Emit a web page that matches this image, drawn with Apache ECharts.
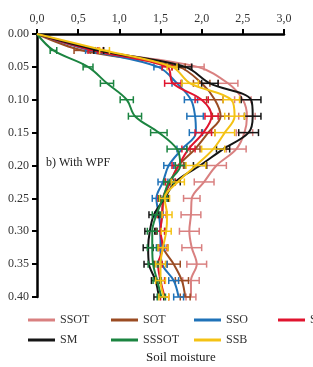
<!DOCTYPE html>
<html>
<head>
<meta charset="utf-8">
<script src="https://cdn.jsdelivr.net/npm/echarts@6/dist/echarts.min.js"></script>
<style>
	html, body { margin: 0; padding: 0; background: #fff; }
	#chart { width: 313px; height: 367px; }
</style>
</head>
<body>
<div id="chart"></div>
<script>
// depth (m) down the profile
var depths = [0, 0.025, 0.05, 0.075, 0.1, 0.125, 0.15, 0.175, 0.2, 0.225, 0.25, 0.275, 0.3, 0.325, 0.35, 0.375, 0.4];

// soil moisture per treatment, one value per depth
var ssot = [0, 0.72, 1.95, 2.32, 2.5, 2.55, 2.52, 2.42, 2.18, 2.03, 1.88, 1.87, 1.85, 1.88, 1.94, 1.87, 1.87];
var sot = [0, 0.55, 1.72, 2.0, 2.16, 2.23, 2.08, 1.92, 1.72, 1.62, 1.54, 1.52, 1.5, 1.53, 1.66, 1.76, 1.8];
var sso = [0, 0.65, 1.47, 1.7, 1.87, 1.92, 1.93, 1.76, 1.6, 1.53, 1.45, 1.48, 1.5, 1.5, 1.52, 1.66, 1.72];
var sss = [0, 0.68, 1.58, 1.65, 2.0, 2.12, 2.02, 1.84, 1.72, 1.62, 1.53, 1.52, 1.5, 1.53, 1.47, 1.5, 1.55];
var sm = [0, 0.75, 1.8, 2.1, 2.6, 2.62, 2.57, 2.26, 1.98, 1.68, 1.55, 1.42, 1.37, 1.35, 1.36, 1.44, 1.48];
var sssot = [0, 0.2, 0.62, 0.85, 1.09, 1.19, 1.48, 1.7, 1.74, 1.6, 1.53, 1.45, 1.4, 1.4, 1.41, 1.46, 1.51];
var ssb = [0, 0.82, 1.64, 1.86, 2.36, 2.4, 2.28, 2.14, 1.93, 1.71, 1.55, 1.58, 1.57, 1.53, 1.5, 1.5, 1.54];

// error bar half widths
var ssotErr = [0, 0.08, 0.08, 0.12, 0.1, 0.1, 0.1, 0.12, 0.12, 0.12, 0.1, 0.12, 0.12, 0.12, 0.12, 0.1, 0.06];
var sotErr = [0, 0.1, 0.08, 0.1, 0.1, 0.1, 0.08, 0.06, 0.06, 0.06, 0.06, 0.06, 0.06, 0.06, 0.08, 0.08, 0.06];
var ssoErr = [0, 0.06, 0.05, 0.06, 0.08, 0.1, 0.08, 0.06, 0.06, 0.06, 0.05, 0.05, 0.05, 0.05, 0.06, 0.06, 0.06];
var sssErr = [0, 0.06, 0.06, 0.1, 0.08, 0.08, 0.1, 0.08, 0.08, 0.06, 0.06, 0.05, 0.05, 0.05, 0.05, 0.05, 0.05];
var smErr = [0, 0.06, 0.08, 0.1, 0.12, 0.1, 0.12, 0.08, 0.08, 0.06, 0.05, 0.06, 0.06, 0.06, 0.06, 0.05, 0.06];
var sssotErr = [0, 0.04, 0.06, 0.08, 0.08, 0.08, 0.1, 0.12, 0.06, 0.06, 0.05, 0.05, 0.06, 0.06, 0.06, 0.05, 0.05];
var ssbErr = [0, 0.06, 0.06, 0.1, 0.1, 0.12, 0.12, 0.14, 0.12, 0.08, 0.06, 0.06, 0.06, 0.06, 0.06, 0.06, 0.06];

var xTicks = ['0,0', '0,5', '1,0', '1,5', '2,0', '2,5', '3,0'];

var list = [
	{ name: 'SSOT', color: '#d98080', vals: ssot, err: ssotErr },
	{ name: 'SOT', color: '#9a4b22', vals: sot, err: sotErr },
	{ name: 'SSO', color: '#1f72b8', vals: sso, err: ssoErr },
	{ name: 'SSS', color: '#e0142e', vals: sss, err: sssErr },
	{ name: 'SM', color: '#151515', vals: sm, err: smErr },
	{ name: 'SSSOT', color: '#1b8440', vals: sssot, err: sssotErr },
	{ name: 'SSB', color: '#f4c214', vals: ssb, err: ssbErr }
];

// legend slots: 4 per row, fixed columns
var legendPos = [[23, 309], [106, 309], [189, 309], [273, 309], [23, 329], [106, 329], [189, 329]];

var font = '"Liberation Serif", "DejaVu Serif", serif';

function errBar(params, api) {
	var v = api.value(0), d = api.value(1), e = api.value(2);
	if (!e) return null;
	var a = api.coord([v - e, d]);
	var b = api.coord([v + e, d]);
	var st = { stroke: api.visual('color'), lineWidth: 1.5 };
	return {
		type: 'group',
		children: [
			{ type: 'line', shape: { x1: a[0], y1: a[1], x2: b[0], y2: b[1] }, style: st },
			{ type: 'line', shape: { x1: a[0], y1: a[1] - 3.5, x2: a[0], y2: a[1] + 3.5 }, style: st },
			{ type: 'line', shape: { x1: b[0], y1: b[1] - 3.5, x2: b[0], y2: b[1] + 3.5 }, style: st }
		]
	};
}

var series = [];
var legends = [];
list.forEach(function(s, i) {
	var pts = [], bars = [];
	depths.forEach(function(d, k) {
		pts.push([s.vals[k], d]);
		bars.push([s.vals[k], d, s.err[k]]);
	});
	series.push({
		name: s.name,
		type: 'line',
		data: pts,
		smooth: 0.35,
		showSymbol: false,
		symbol: 'none',
		z: 3 + i,
		itemStyle: { color: s.color },
		lineStyle: { color: s.color, width: 2 }
	});
	series.push({
		name: s.name,
		type: 'custom',
		renderItem: errBar,
		data: bars,
		z: 3 + i,
		itemStyle: { color: s.color },
		encode: { x: 0, y: 1 }
	});
	legends.push({
		data: [s.name],
		left: legendPos[i][0],
		top: legendPos[i][1],
		icon: 'rect',
		itemWidth: 27,
		itemHeight: 3,
		itemGap: 0,
		selectedMode: false,
		textStyle: { fontFamily: font, fontSize: 12, color: '#333' }
	});
});

var chart = echarts.init(document.getElementById('chart'));
chart.setOption({
	animation: false,
	backgroundColor: '#fff',
	grid: { left: 37, right: 29, top: 34, bottom: 70, containLabel: false },
	legend: legends,
	graphic: [
		{ type: 'text', left: 46, top: 157, style: { text: 'b) With WPF', font: '12px ' + font, fill: '#222' } },
		{ type: 'text', left: 146, top: 351, style: { text: 'Soil moisture', font: '13px ' + font, fill: '#222' } }
	],
	xAxis: {
		type: 'value',
		position: 'top',
		min: 0,
		max: 3,
		interval: 0.5,
		axisLine: { show: true, lineStyle: { color: '#000', width: 2.5 } },
		axisTick: { show: true, length: 5, lineStyle: { color: '#000', width: 2 } },
		splitLine: { show: false },
		axisLabel: {
			margin: 9,
			fontFamily: font,
			fontSize: 12,
			color: '#333',
			formatter: function(v) { return xTicks[Math.round(v / 0.5)]; }
		}
	},
	yAxis: {
		type: 'value',
		inverse: true,
		min: 0,
		max: 0.4,
		interval: 0.05,
		axisLine: { show: true, lineStyle: { color: '#000', width: 2.5 } },
		axisTick: { show: true, length: 5, lineStyle: { color: '#000', width: 2 } },
		splitLine: { show: false },
		axisLabel: {
			margin: 8,
			fontFamily: font,
			fontSize: 12,
			color: '#333',
			formatter: function(v) { return v.toFixed(2); }
		}
	},
	series: series
});
</script>
</body>
</html>
